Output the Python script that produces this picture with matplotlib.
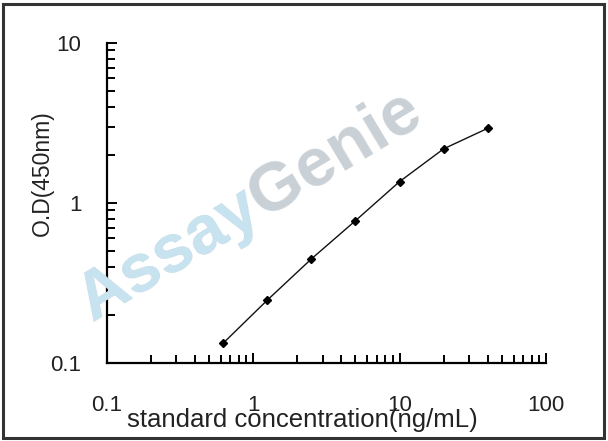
import matplotlib
matplotlib.use("Agg")
import matplotlib.pyplot as plt
from matplotlib.patches import Rectangle
from matplotlib.ticker import LogLocator, NullFormatter, FixedLocator, FixedFormatter

plt.rcParams['font.family'] = ['Liberation Sans', 'DejaVu Sans']

conc = [0.625, 1.25, 2.5, 5, 10, 20, 40]
od = [0.133, 0.247, 0.447, 0.775, 1.36, 2.18, 2.93]
xticks = [0.1, 1, 10, 100]
xticklabels = ['0.1', '1', '10', '100']
yticks = [0.1, 1, 10]
yticklabels = ['0.1', '1', '10']
xlabel = 'standard concentration(ng/mL)'
ylabel = 'O.D(450nm)'

fig = plt.figure(figsize=(6.08, 4.41), dpi=100)
ax = fig.add_axes([106.6/608, (441-363)/441, (546-106.6)/608, (363-43)/441])
ax.set_xscale('log')
ax.set_yscale('log')
ax.set_xlim(0.1, 100)
ax.set_ylim(0.1, 10)

# watermark
wm_x, wm_y = 92/608, (441-322)/441
fig.text(wm_x, wm_y, 'AssayGenie', fontsize=49, fontweight='bold',
         color='#c9d0d6', rotation=31, rotation_mode='anchor', ha='left', va='baseline', zorder=0)
fig.text(wm_x, wm_y, 'Assay', fontsize=49, fontweight='bold',
         color='#c8e4f1', rotation=31, rotation_mode='anchor', ha='left', va='baseline', zorder=0)
ax.set_facecolor('none')

ax.plot(conc, od, color='#111111', lw=1.0, marker='D', markersize=4.5,
        markerfacecolor='black', markeredgecolor='black', zorder=3)

for s in ['top', 'right']:
    ax.spines[s].set_visible(False)
for s in ['left', 'bottom']:
    ax.spines[s].set_linewidth(1.6)
    ax.spines[s].set_color('black')

ax.xaxis.set_major_locator(FixedLocator(xticks))
ax.xaxis.set_major_formatter(FixedFormatter(xticklabels))
ax.yaxis.set_major_locator(FixedLocator(yticks))
ax.yaxis.set_major_formatter(FixedFormatter(yticklabels))
ax.xaxis.set_minor_locator(LogLocator(base=10, subs=range(2, 10)))
ax.yaxis.set_minor_locator(LogLocator(base=10, subs=range(2, 10)))
ax.xaxis.set_minor_formatter(NullFormatter())
ax.yaxis.set_minor_formatter(NullFormatter())
ax.tick_params(which='major', direction='in', length=7.5, width=1.4, labelsize=16,
               colors='black', labelcolor='#222222')
ax.tick_params(which='minor', direction='in', length=5.5, width=1.4)
ax.tick_params(axis='y', which='major', pad=18)
ax.tick_params(axis='x', which='major', pad=23)

fig.text(302/608, (441-427)/441, xlabel, fontsize=18.5, ha='center', va='baseline', color='#222222')
fig.text(42/608, (441-173)/441, ylabel, fontsize=16.5, rotation=90, ha='center', va='center', color='#222222')

fig.patches.append(Rectangle((3/608, 3/441), 601/608, 434/441, transform=fig.transFigure,
                             fill=False, edgecolor='#333333', linewidth=2.2))

fig.savefig('out.png', dpi=100)
